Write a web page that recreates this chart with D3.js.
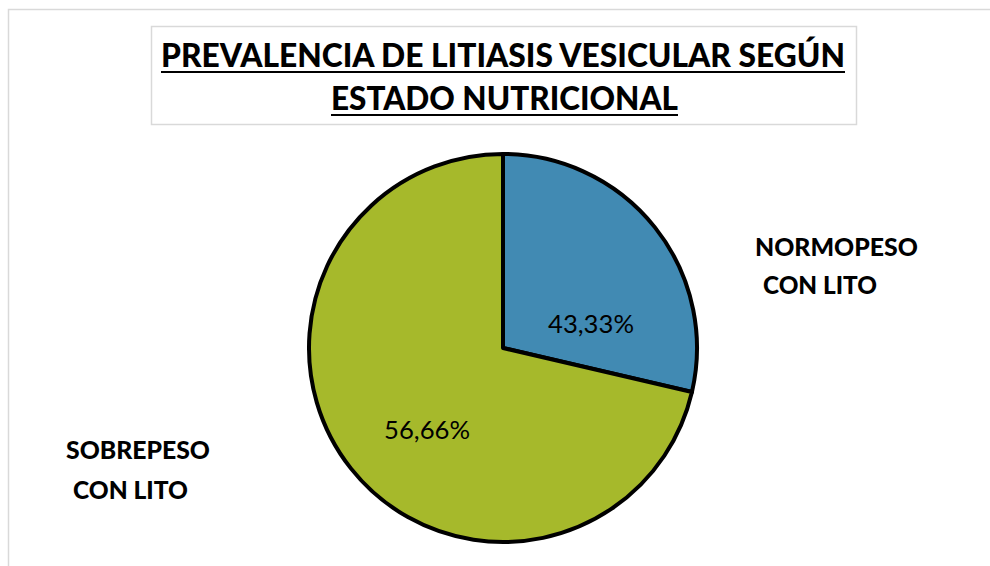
<!DOCTYPE html>
<html>
<head>
<meta charset="utf-8">
<script src="https://d3js.org/d3.v7.min.js"></script>
<style>
  body { margin: 0; background: #fff; }
  svg { display: block; font-family: Lato, "Open Sans", sans-serif; }
</style>
</head>
<body>
<div id="chart"></div>
<script>
// slice shares as drawn in the picture, and the labels printed on them
var categories = ["NORMOPESO CON LITO", "SOBREPESO CON LITO"];
var shares = [28.64, 71.36];
var pctLabels = ["43,33%", "56,66%"];
var colors = ["#418AB3", "#A6B92B"];
var titleLines = ["PREVALENCIA DE LITIASIS VESICULAR SEGÚN", "ESTADO NUTRICIONAL"];

var w = 990, h = 566;
var svg = d3.select("#chart").append("svg")
  .attr("width", w).attr("height", h);

// outer chart frame (only top and left edges fall inside the window)
svg.append("rect")
  .attr("x", 8.5).attr("y", 9.5)
  .attr("width", 1000).attr("height", 600)
  .attr("fill", "none").attr("stroke", "#d9d9d9").attr("stroke-width", 1.5);

// title box
svg.append("rect")
  .attr("x", 151.5).attr("y", 26.5)
  .attr("width", 705).attr("height", 98)
  .attr("fill", "#fff").attr("stroke", "#d9d9d9").attr("stroke-width", 1.5);

// fit text to a target width by adjusting font size
function fit(sel, width) {
  var fs = 30;
  sel.style("font-size", fs + "px");
  var len = sel.node().getComputedTextLength();
  sel.style("font-size", (fs * width / len) + "px");
}

var titleSpec = [
  {cx: 503, y: 67, width: 684},
  {cx: 504.5, y: 110, width: 347}
];
titleLines.forEach(function(t, i) {
  var s = titleSpec[i];
  var txt = svg.append("text")
    .attr("x", s.cx).attr("y", s.y)
    .attr("text-anchor", "middle")
    .attr("font-weight", "900")
    .attr("fill", "#000")
    .text(t);
  fit(txt, s.width);
  svg.append("line")
    .attr("x1", s.cx - s.width / 2).attr("x2", s.cx + s.width / 2)
    .attr("y1", s.y + 5).attr("y2", s.y + 5)
    .attr("stroke", "#000").attr("stroke-width", 2.2);
});

// pie
var cx = 503, cy = 348, r = 194;
var pie = d3.pie().sort(null).value(function(d) { return d; });
var arc = d3.arc().innerRadius(0).outerRadius(r);
var arcs = pie(shares);

var g = svg.append("g").attr("transform", "translate(" + cx + "," + cy + ")");
g.selectAll("path.slice").data(arcs).enter().append("path")
  .attr("class", "slice")
  .attr("d", arc)
  .attr("fill", function(d, i) { return colors[i]; })
  .attr("stroke", "#000")
  .attr("stroke-width", 4)
  .attr("stroke-linejoin", "round");

// percentage labels inside slices
var pctPos = [[88, -22], [-76, 84]];
g.selectAll("text.pct").data(arcs).enter().append("text")
  .attr("class", "pct")
  .attr("x", function(d, i) { return pctPos[i][0]; })
  .attr("y", function(d, i) { return pctPos[i][1]; })
  .attr("text-anchor", "middle")
  .attr("dominant-baseline", "middle")
  .attr("fill", "#000")
  .text(function(d, i) { return pctLabels[i]; })
  .each(function() { fit(d3.select(this), 86); });

// category labels outside
var catSpec = [
  {x: 755, y: 256, w1: 163, x2: 763, y2: 294, w2: 114},
  {x: 66, y: 459, w1: 144, x2: 73, y2: 499, w2: 115}
];
categories.forEach(function(c, i) {
  var parts = c.split(" ");
  var first = parts[0], rest = parts.slice(1).join(" ");
  var s = catSpec[i];
  var t1 = svg.append("text").attr("x", s.x).attr("y", s.y)
    .attr("font-weight", "900").attr("fill", "#000")
    .text(first);
  fit(t1, s.w1);
  var t2 = svg.append("text").attr("x", s.x2).attr("y", s.y2)
    .attr("font-weight", "900").attr("fill", "#000")
    .text(rest);
  fit(t2, s.w2);
});
</script>
</body>
</html>
